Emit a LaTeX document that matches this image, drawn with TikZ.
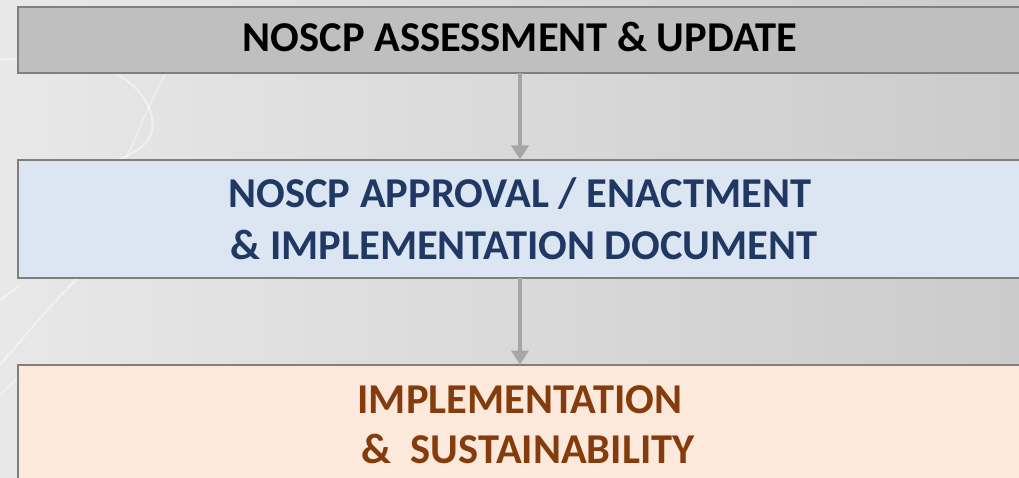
\documentclass[tikz,border=0pt]{standalone}
\usepackage{fontspec}
\setmainfont{Carlito}
\usetikzlibrary{arrows.meta}
\definecolor{bgA}{HTML}{E8E8E8}
\definecolor{bgB}{HTML}{CBCBCB}
\definecolor{boxline}{HTML}{7F7F7F}
\definecolor{grayfill}{HTML}{BFBFBF}
\definecolor{bluefill}{HTML}{DCE6F2}
\definecolor{peachfill}{HTML}{FCE9DB}
\definecolor{bluetext}{HTML}{1F3864}
\definecolor{browntext}{HTML}{843C0C}
\definecolor{arrowgray}{HTML}{A6A6A6}
\tikzset{
  panel/.style={draw=boxline, line width=2pt, minimum width=1004pt, inner sep=0pt, outer sep=0pt},
  txt/.style={anchor=base, inner sep=0pt, font=\fontsize{42.5}{50}\selectfont\bfseries},
  flow/.style={draw=arrowgray, line width=4pt, -{Triangle[width=17pt,length=14pt]}, shorten >=0.5pt},
  swoosh/.style={draw=white, opacity=0.45, line width=2pt}
}
\begin{document}
\begin{tikzpicture}[x=1pt,y=-1pt]
\useasboundingbox (0,0) rectangle (1019,478);
\shade[left color=bgA, right color=bgB] (0,0) rectangle (1019,478);
% faint background swooshes
\draw[swoosh] (-5,60) .. controls (60,55) and (130,60) .. (150,110) .. controls (160,140) and (140,150) .. (118,160);
\draw[swoosh, opacity=0.35] (165,75) .. controls (150,100) and (140,130) .. (125,160);
\draw[swoosh] (0,300) -- (20,285);
\draw[swoosh] (0,365) .. controls (30,330) and (55,300) .. (78,278);
\draw[swoosh, opacity=0.35] (0,395) -- (18,378);
% boxes
\node[panel, fill=grayfill, minimum height=66pt] (b1) at (520,40) {};
\node[panel, fill=bluefill, minimum height=118pt] (b2) at (520,219) {};
\node[panel, fill=peachfill, minimum height=130pt] (b3) at (520,430) {};
% texts
\node[txt, text=black] (t1) at (520,52) {NOSCP ASSESSMENT \& UPDATE};
\node[txt, text=bluetext] (t2a) at (520,208) {NOSCP APPROVAL / ENACTMENT};
\node[txt, text=bluetext] (t2b) at (524,259) {\& IMPLEMENTATION DOCUMENT};
\node[txt, text=browntext] (t3a) at (520,413) {IMPLEMENTATION};
\node[txt, text=browntext] (t3b) at (528,463) {\&\hspace{0.45em}SUSTAINABILITY};
% connectors
\draw[flow] (b1.south) -- (b2.north);
\draw[flow] (b2.south) -- (b3.north);
\end{tikzpicture}
\end{document}
